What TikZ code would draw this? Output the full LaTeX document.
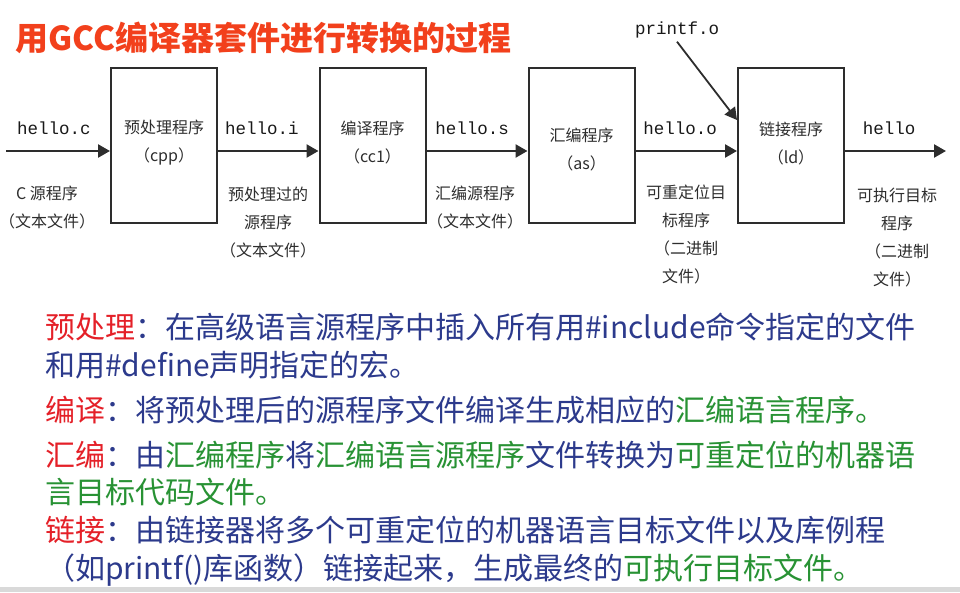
\documentclass[tikz,border=0pt]{standalone}
\usepackage{fontspec}
\newfontfamily\cjk{Noto Sans CJK SC}
\newfontfamily\mono{Liberation Mono}
\usetikzlibrary{arrows.meta}
\definecolor{titlered}{RGB}{242,64,28}
\definecolor{keyred}{RGB}{228,32,40}
\definecolor{txtblue}{RGB}{44,58,140}
\definecolor{txtgreen}{RGB}{40,146,52}
\definecolor{ink}{RGB}{45,45,45}
\newcommand{\kw}[1]{\textcolor{keyred}{#1}}
\newcommand{\gr}[1]{\textcolor{txtgreen}{#1}}

\begin{document}
\begin{tikzpicture}[x=1pt,y=-1pt,
    stage/.style={draw=ink, line width=2pt, minimum width=106pt, minimum height=155pt, inner sep=0pt},
    flow/.style={draw=ink, line width=2.4pt, -{Triangle[length=12pt,width=13pt]}},
    fname/.style={font=\mono\fontsize{17.5}{20}\selectfont, text=black!90},
    note/.style={font=\cjk\fontsize{16}{28}\selectfont, text=ink, align=center},
    body/.style={anchor=west, inner sep=0pt, font=\cjk\fontsize{30}{32}\selectfont, text=txtblue}]
    \useasboundingbox (0,0) rectangle (960,592);
    \fill[black!15] (0,587) rectangle (960,592);
    % title
    \node[anchor=west, inner sep=0pt, text=titlered, font=\cjk\bfseries\fontsize{33}{36}\selectfont] (title) at (15,38) {用GCC编译器套件进行转换的过程};
    % the four programs
    \foreach \n/\x in {b1/164, b2/372.5, b3/581.5, b4/791}
    \node[stage] (\n) at (\x,145.5) {};
    \node[note] (t1) at (164,142.5) {预处理程序\\（cpp）};
    \node[note] (t2) at (372.5,142.5) {编译程序\\（cc1）};
    \node[note] (t3) at (581.5,149) {汇编程序\\（as）};
    \node[note] (t4) at (791,144) {链接程序\\（ld）};
    % files between them
    \coordinate (src) at (6,151);
    \coordinate (dst) at (946,151);
    \draw[flow] (src) -- ([yshift=-5.5pt]b1.west);
    \foreach \a/\b in {b1/b2, b2/b3, b3/b4}
    \draw[flow] ([yshift=-5.5pt]\a.east) -- ([yshift=-5.5pt]\b.west);
    \draw[flow] ([yshift=-5.5pt]b4.east) -- (dst);
    \foreach \n/\x/\t in {fc/54/hello.c, fi/262/hello.i, fs/472/hello.s, fo/680/hello.o, fx/889/hello}
    \node[fname] (\n) at (\x,128) {\t};
    \node[fname] (pf) at (677,30) {printf.o};
    \draw[flow, line width=1.8pt] (pf.south) -- ([yshift=25.5pt]b4.west);
    % what each file is
    \node[note] (n0) at (47,208) {C 源程序\\（文本文件）};
    \node[note] (n1) at (268,222.5) {预处理过的\\源程序\\（文本文件）};
    \node[note] (n2) at (475,207.5) {汇编源程序\\（文本文件）};
    \node[note] (n3) at (686,234) {可重定位目\\标程序\\（二进制\\文件）};
    \node[note] (n4) at (897,237.5) {可执行目标\\程序\\（二进制\\文件）};
    % explanation
    \node[body] (p1) at (45,327) {\kw{预处理}：在高级语言源程序中插入所有用\#include命令指定的文件};
    \node[body] (p2) at (45,365) {和用\#define声明指定的宏。};
    \node[body] (p3) at (45,410) {\kw{编译}：将预处理后的源程序文件编译生成相应的\gr{汇编语言程序。}};
    \node[body] (p4) at (45,455) {\kw{汇编}：由\gr{汇编程序}将\gr{汇编语言源程序}文件转换为\gr{可重定位的机器语}};
    \node[body] (p5) at (45,492) {\gr{言目标代码文件。}};
    \node[body] (p6) at (45,530) {\kw{链接}：由链接器将多个可重定位的机器语言目标文件以及库例程};
    \node[body] (p7) at (45,570) {（如printf()库函数）链接起来，生成最终的\gr{可执行目标文件。}};
\end{tikzpicture}
\end{document}
